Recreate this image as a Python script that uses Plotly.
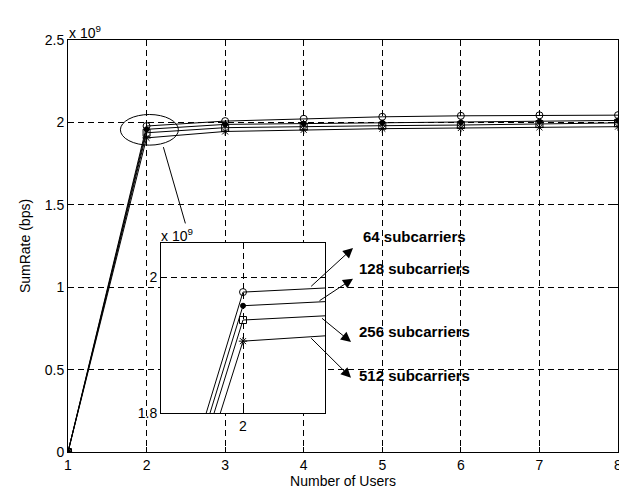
import plotly.graph_objects as go

# ---------------- data (sum rate in units of 1e9 bps) ----------------
users = [1, 2, 3, 4, 5, 6, 7, 8]
series_names = ["64 subcarriers", "128 subcarriers", "256 subcarriers", "512 subcarriers"]
rate_64 = [0, 1.978, 2.008, 2.022, 2.034, 2.040, 2.043, 2.044]
rate_128 = [0, 1.958, 1.988, 1.992, 1.998, 2.001, 2.005, 2.012]
rate_256 = [0, 1.937, 1.968, 1.975, 1.980, 1.984, 1.990, 1.997]
rate_512 = [0, 1.906, 1.945, 1.955, 1.962, 1.966, 1.970, 1.974]
x_ticks = [1, 2, 3, 4, 5, 6, 7, 8]
y_ticks = [0, 0.5, 1, 1.5, 2, 2.5]
y_ticklabels = ["0", "0.5", "1", "1.5", "2", "2.5"]
inset_x_ticks = [2]
inset_y_ticks = [1.8, 2]
inset_y_ticklabels = ["1.8", "2"]

series = [rate_64, rate_128, rate_256, rate_512]
symbols = ["circle-open", "circle", "square-open", "asterisk-open"]
sizes = [7, 5, 7, 7]

FONT = "Liberation Sans, Arial, sans-serif"
FS = 14
W, H = 627, 491
ML, MR, MT, MB = 60, 17, 32, 43
PW, PH = W - ML - MR, H - MT - MB

fig = go.Figure()
for name, vals, sym, sz in zip(series_names, series, symbols, sizes):
    for xa, ya in (("x", "y"), ("x2", "y2")):
        fig.add_trace(go.Scatter(
            x=users, y=vals, name=name, xaxis=xa, yaxis=ya, mode="lines+markers",
            line=dict(color="black", width=1),
            marker=dict(symbol=sym, size=sz, color="black", line=dict(color="black", width=1)),
            showlegend=False, cliponaxis=True,
        ))

grid = dict(showgrid=True, gridcolor="black", gridwidth=0.8, griddash="6px,4px",
            showline=True, linecolor="black", linewidth=1, mirror="allticks",
            ticks="inside", ticklen=5, tickcolor="black", zeroline=False,
            tickfont=dict(family=FONT, size=FS, color="black"))

fig.update_layout(
    width=W, height=H, margin=dict(l=ML, r=MR, t=MT, b=MB),
    paper_bgcolor="white", plot_bgcolor="white", showlegend=False,
    font=dict(family=FONT, size=FS, color="black"),
    xaxis=dict(range=[1, 8], tickvals=x_ticks, domain=[0, 1],
               title=dict(text="Number of Users", standoff=4,
                          font=dict(family=FONT, size=FS)), **grid),
    yaxis=dict(range=[0, 2.5], tickvals=y_ticks, ticktext=y_ticklabels, domain=[0, 1],
               title=dict(text="SumRate (bps)", standoff=10,
                          font=dict(family=FONT, size=FS)), **grid),
    xaxis2=dict(range=[1.8, 2.2], tickvals=inset_x_ticks, anchor="y2",
                domain=[(153 - ML) / PW, (317 - ML) / PW], **grid),
    yaxis2=dict(range=[1.8, 2.05], tickvals=inset_y_ticks, ticktext=inset_y_ticklabels,
                anchor="x2", domain=[(MT + PH - 409) / PH, (MT + PH - 237) / PH], **grid),
)

# zoom ellipse and connector line on the main axes
fig.add_shape(type="circle", xref="x", yref="y", x0=1.667, x1=2.405, y0=1.862, y1=2.048,
              line=dict(color="black", width=1))
fig.add_shape(type="line", xref="x", yref="y", x0=2.214, y0=1.850, x1=2.494, y1=1.387,
              line=dict(color="black", width=1))

def px_to_paper(px, py):
    return (px - ML) / PW, (MT + PH - py) / PH

# exponent labels
ex, ey = px_to_paper(59, 32)
fig.add_annotation(text="x 10<sup>9</sup>", xref="paper", yref="paper", x=ex, y=ey,
                   xanchor="left", yanchor="bottom", showarrow=False,
                   font=dict(family=FONT, size=FS), yshift=-3)
ix, iy = px_to_paper(151, 237)
fig.add_annotation(text="x 10<sup>9</sup>", xref="paper", yref="paper", x=ix, y=iy,
                   xanchor="left", yanchor="bottom", showarrow=False,
                   font=dict(family=FONT, size=FS), yshift=-3)

# arrows (tip pixel, tail pixel) and labels
arrows = [((345, 242), (301.7, 281.7)), ((345, 273), (310, 296)),
          ((343, 337), (312.5, 312)), ((343, 373), (301.7, 332))]
label_pos = [(406, 230), (406, 263), (406, 337), (406, 381)]
for name, (tip, tail), (lx, ly) in zip(series_names, arrows, label_pos):
    tx, ty = px_to_paper(*tip)
    fig.add_annotation(text="", xref="paper", yref="paper", x=tx, y=ty,
                       ax=tail[0] - tip[0], ay=tail[1] - tip[1], axref="pixel", ayref="pixel",
                       showarrow=True, arrowhead=2, arrowsize=2, arrowwidth=1,
                       arrowcolor="black", standoff=0, startstandoff=0)
    px, py = px_to_paper(lx, ly)
    fig.add_annotation(text="<b>" + name + "</b>", xref="paper", yref="paper", x=px, y=py,
                       showarrow=False, font=dict(family=FONT, size=15, color="black"))

fig.write_html("out.html")
